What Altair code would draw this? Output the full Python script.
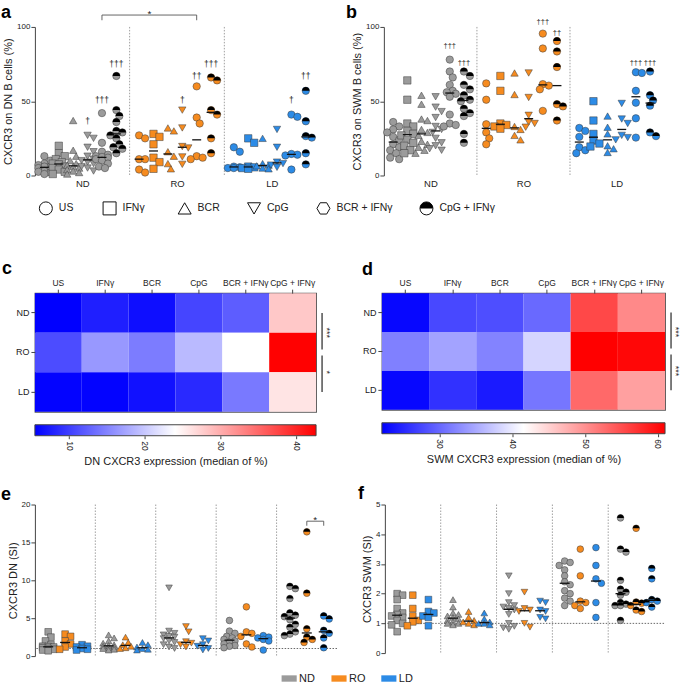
import altair as alt
import pandas as pd

FONT = "Liberation Sans"

groups = ["ND", "RO", "LD"]
treatments = ["US", "IFNγ", "BCR", "CpG", "BCR + IFNγ", "CpG + IFNγ"]
group_colors = ["#9b9b9b", "#f68b1f", "#2c8be6"]

# ---------------- panel a : CXCR3 on DN B cells (%) ----------------
a_ND = [
    [13, 10, 8, 7, 6, 6, 5, 4, 3, 2.5, 2, 1],
    [20, 15, 13, 11, 9, 8, 7.5, 6, 5, 4, 2.5, 1],
    [37, 17, 13, 10, 8, 7, 6, 5, 4, 3, 2, 1],
    [27, 25, 19, 16, 13, 11, 10, 9, 8, 6, 5, 3],
    [42, 22, 16, 14, 13, 12.5, 12, 11, 10, 8, 6, 5],
    [67, 44, 40, 36, 30, 29, 27, 25, 21, 19, 18, 15],
]
a_RO = [
    [27, 25, 11, 11, 4, 2],
    [28, 26, 21, 12, 9, 4.5],
    [32, 30, 16, 13, 8, 4.5],
    [44, 32, 19.5, 18.5, 12.5, 7.5],
    [60, 39, 35, 13, 12, 11],
    [66, 64, 44, 41, 25, 15],
]
a_LD = [
    [19, 16, 6, 5.5, 5, 5],
    [25, 22, 6, 5.5, 5, 4.5],
    [25, 8, 7, 6.5, 5, 4.5],
    [31, 19, 9, 8, 7, 5.5],
    [41, 39.5, 14.5, 14, 13.5, 4],
    [57, 36.5, 26.5, 25.5, 15, 7.5],
]
a_dag_group = ["ND", "ND", "ND", "RO", "RO", "RO", "LD", "LD"]
a_dag_treat = ["CpG", "BCR + IFNγ", "CpG + IFNγ", "CpG", "BCR + IFNγ", "CpG + IFNγ", "BCR + IFNγ", "CpG + IFNγ"]
a_dag_y = [37, 51, 75, 51, 67, 75, 51, 67]
a_dag_text = ["†", "†††", "†††", "†", "††", "†††", "†", "††"]
a_bracket = [("ND", "BCR + IFNγ"), ("RO", "BCR + IFNγ")]
a_bracket_y = [104.5, 108]

# ---------------- panel b : CXCR3 on SWM B cells (%) ----------------
b_ND = [
    [36, 33, 31, 29, 26, 24, 21, 19, 17, 15, 12, 11],
    [64, 51, 35, 33, 30, 28, 27, 24, 22, 20, 17, 15],
    [54, 48, 38, 37, 31, 29, 27, 23, 21, 19, 17, 15],
    [53, 46, 43, 39, 33, 31, 29, 25, 22, 20, 18, 17],
    [78, 70, 66, 61, 57, 56, 55, 53, 41, 35, 34, 33],
    [70, 67, 61, 58, 54, 51, 50, 45, 42, 40, 28, 22],
]
b_RO = [
    [62, 51, 34.5, 29, 25, 21],
    [67, 57, 35, 34, 33, 31.5],
    [69, 54.5, 33, 31, 27, 24],
    [69, 52.5, 40.5, 36, 35, 32.5],
    [95.5, 85.5, 61.5, 60.5, 58, 43.5],
    [90.5, 83.5, 73, 48, 46.5, 37],
]
b_LD = [
    [32, 30, 26, 19, 17, 15],
    [50, 37, 28, 23.5, 21.5, 19.5],
    [40, 32.5, 28, 20, 18, 15.5],
    [48.5, 38, 35, 27, 25.5, 24],
    [69.5, 69, 57, 49, 38.5, 25.5],
    [70, 54, 50.5, 47, 29, 26.5],
]
b_dag_group = ["ND", "ND", "RO", "RO", "LD", "LD"]
b_dag_treat = ["BCR + IFNγ", "CpG + IFNγ"] * 3
b_dag_y = [87, 76, 103.5, 96, 76, 76]
b_dag_text = ["†††", "†††", "†††", "††", "†††", "†††"]

# ---------------- heatmaps c, d (medians of a, b) ----------------
c_scale = [5.5, 24, 42.6]
c_ticks = [10, 20, 30, 40]
c_sig = ["***", "*"]
d_scale = [22, 41.5, 61]
d_ticks = [30, 40, 50, 60]
d_sig = ["***", "***"]

# ---------------- panel e : CXCR3 DN (SI) ----------------
e_ND = [
    [3.2, 2.5, 2.0, 1.5, 1.3, 1.25, 1.2, 1.1, 1.0, 0.9, 0.8, 0.7],
    [2.8, 2.4, 2.0, 1.7, 1.5, 1.4, 1.3, 1.2, 1.1, 1.0, 0.9, 0.8],
    [9.0, 3.3, 3.0, 2.8, 2.6, 2.5, 2.3, 2.0, 1.8, 1.5, 1.2, 1.0],
    [4.7, 3.3, 3.0, 2.6, 2.4, 2.2, 2.0, 1.8, 1.6, 1.4, 1.3, 1.1],
    [9.2, 8.9, 7.6, 5.7, 5.4, 5.2, 4.8, 4.2, 3.8, 3.2, 2.9, 2.7],
]
e_RO = [
    [2.9, 2.6, 2.0, 1.6, 1.2, 0.9],
    [2.5, 1.8, 1.5, 1.3, 1.1, 1.0],
    [3.9, 3.2, 1.9, 1.7, 1.5, 1.2],
    [6.5, 3.2, 3.0, 2.6, 1.6, 1.2],
    [16.4, 8.3, 3.6, 2.5, 2.2, 1.8],
]
e_LD = [
    [1.5, 1.3, 1.2, 1.0, 0.9, 0.8],
    [1.8, 1.5, 1.2, 1.0, 0.9, 0.8],
    [2.3, 2.0, 1.5, 1.3, 1.0, 0.8],
    [2.7, 2.5, 2.4, 2.2, 2.0, 0.8],
    [5.3, 4.9, 3.4, 3.0, 2.4, 1.1],
]
e_bracket = [("RO", "CpG + IFNγ"), ("LD", "CpG + IFNγ")]
e_bracket_y = [17.2, 17.8]

# ---------------- panel f : CXCR3 SWM (SI) ----------------
f_ND = [
    [2.0, 1.95, 1.8, 1.5, 1.35, 1.3, 1.25, 1.2, 1.1, 1.0, 0.95, 0.72],
    [1.8, 1.55, 1.35, 1.3, 1.25, 1.2, 1.15, 1.1, 1.05, 1.0, 1.0, 0.95],
    [2.6, 2.0, 1.7, 1.6, 1.55, 1.5, 1.45, 1.3, 1.0, 0.9, 0.85, 0.8],
    [3.1, 3.05, 2.95, 2.8, 2.6, 2.4, 2.3, 2.1, 2.0, 1.85, 1.75, 1.6],
    [4.55, 3.5, 3.4, 2.45, 2.15, 2.05, 1.95, 1.7, 1.65, 1.6, 1.6, 1.1],
]
f_RO = [
    [1.95, 1.5, 1.25, 1.1, 1.05, 0.92],
    [1.4, 1.2, 1.1, 1.05, 1.0, 0.95],
    [2.05, 1.5, 1.45, 1.4, 1.0, 0.87],
    [3.5, 2.6, 1.75, 1.7, 1.6, 1.5],
    [4.2, 1.72, 1.68, 1.6, 1.45, 1.4],
]
f_LD = [
    [1.8, 1.4, 1.35, 1.25, 1.2, 0.92],
    [1.35, 1.15, 1.05, 1.0, 1.0, 0.95],
    [1.75, 1.7, 1.45, 1.4, 1.2, 1.15],
    [3.55, 2.95, 2.5, 2.35, 1.7, 1.2],
    [2.85, 2.5, 1.8, 1.75, 1.7, 1.55],
]

# ---------------- styling helpers ----------------
HALF = "M-1,0A1,1 0 0 1 1,0Z"
HEX = "M-1,0L-0.5,-0.87L0.5,-0.87L1,0L0.5,0.87L-0.5,0.87Z"
BAR = "M-1,-0.42L1,-0.42L1,0.42L-1,0.42Z"
point_shapes = ["circle", "square", "triangle-up", "triangle-down", "circle", "circle"]
legend_shapes = ["circle", "square", "triangle-up", "triangle-down", HEX, "circle"]
col_ab = [0.10, 0.252, 0.404, 0.556, 0.708, 0.86]
col_ef = [0.22, 0.5, 0.78]
RES = dict(shape="independent", color="independent", fill="independent")
ORIGIN = 35  # x of the first column's plot areas


def swarm(values, ppu, diam):
    step = diam * 0.5
    placed, out = [], [0.0] * len(values)
    for i in sorted(range(len(values)), key=lambda k: -values[k]):
        y = values[i] * ppu
        best, best_cost = 0.0, None
        for c in (0.0, step, -step, 2 * step, -2 * step):
            cost = 0.0
            for py, px in placed:
                d = ((c - px) ** 2 + (y - py) ** 2) ** 0.5
                cost += max(0.0, diam - d)
            if best_cost is None or cost < best_cost - 1e-6:
                best, best_cost = c, cost
            if cost == 0:
                break
        placed.append((y, best))
        out[i] = best
    return out


def strip_df(by_group, x_ppu, y_ppu, diam, treat_major):
    rows = []
    for gi, g in enumerate(groups):
        for k, vals in enumerate(by_group[gi]):
            if treat_major:
                t = treatments[k]
                xc = gi + col_ab[k]
            else:
                t = treatments[k + 1]
                xc = k + col_ef[gi]
            for v, dx in zip(vals, swarm(vals, y_ppu, diam)):
                rows.append({"group": g, "treat": t, "value": v, "xc": xc,
                             "x": xc + dx / x_ppu, "half": t == treatments[-1]})
    return pd.DataFrame(rows)


def xpos(g, t, treat_major):
    gi, ti = groups.index(g), treatments.index(t)
    return gi + col_ab[ti] if treat_major else (ti - 1) + col_ef[gi]


def letter_layer(letter, dx, dy):
    return alt.Chart(pd.DataFrame({"t": [letter]})).mark_text(
        font=FONT, fontSize=18, fontWeight="bold", align="left", baseline="alphabetic", color="#000"
    ).encode(text="t:N", x=alt.value(dx), y=alt.value(dy))


def strip_panel(df, W, H, ymax, yticks, ytitle, ncol, size, letter, ldx, ldy, treat_major,
                xlabels=None, hline=None, dag=None, dag_size=8.5, bracket=None, bracket_y=None, tick_len=10):
    xs = alt.Scale(domain=[0, ncol], nice=False, zero=False)
    ys = alt.Scale(domain=[0, ymax], nice=False)
    if xlabels:
        expr = "[" + ",".join("'%s'" % l for l in xlabels) + "][floor(datum.value)]"
        xaxis = alt.Axis(values=[i + 0.5 for i in range(ncol)], labelExpr=expr, title=None, domain=False,
                         ticks=False, tickSize=0, grid=False, labelFontSize=9.5, labelPadding=3)
    else:
        xaxis = None
    yaxis = alt.Axis(values=yticks, title=ytitle, grid=False, tickSize=4, labelPadding=1, titlePadding=3,
                     labelFontSize=8, titleFontSize=11, titleFontWeight="normal")

    def X(f):
        return alt.X(f, scale=xs, axis=xaxis)

    def Y(f):
        return alt.Y(f, scale=ys, axis=yaxis)

    layers = [alt.Chart(pd.DataFrame({"s": list(range(1, ncol))})).mark_rule(
        color="#888", strokeWidth=0.8, strokeDash=[1.5, 1.5]).encode(x=X("s:Q"))]
    if hline is not None:
        layers.append(alt.Chart(pd.DataFrame({"h": [hline]})).mark_rule(
            color="#444", strokeWidth=0.8, strokeDash=[1.5, 1.5]).encode(y=Y("h:Q")))
    base = alt.Chart(df)
    layers.append(base.mark_point(filled=True, size=size, opacity=1, stroke="#3a3a3a", strokeWidth=0.5).encode(
        x=X("x:Q"), y=Y("value:Q"),
        fill=alt.Fill("group:N", scale=alt.Scale(domain=groups, range=group_colors), legend=None),
        shape=alt.Shape("treat:N", scale=alt.Scale(domain=treatments, range=point_shapes), legend=None),
    ))
    layers.append(base.transform_filter("datum.half").mark_point(
        filled=True, shape=HALF, size=size, opacity=1, color="#000", strokeWidth=0).encode(
        x=X("x:Q"), y=Y("value:Q")))
    layers.append(base.mark_tick(orient="horizontal", size=tick_len, thickness=1.3, color="#111").encode(
        x=X("xc:Q"), y=Y("median(value):Q")))
    if dag is not None:
        gs, ts, yv, tx = dag
        ddf = pd.DataFrame({"x": [xpos(g, t, treat_major) for g, t in zip(gs, ts)], "y": yv, "t": tx})
        layers.append(alt.Chart(ddf).mark_text(font=FONT, fontSize=dag_size, baseline="middle", color="#222",
                                               fill="#222").encode(x=X("x:Q"), y=Y("y:Q"), text="t:N"))
    if bracket is not None:
        x0 = xpos(bracket[0][0], bracket[0][1], treat_major)
        x1 = xpos(bracket[1][0], bracket[1][1], treat_major)
        lo, hi = bracket_y
        bdf = pd.DataFrame({"x": [x0, x0, x1, x1], "y": [lo, hi, hi, lo], "o": [0, 1, 2, 3]})
        layers.append(alt.Chart(bdf).mark_line(color="#555", strokeWidth=0.9).encode(
            x=X("x:Q"), y=Y("y:Q"), order="o:Q"))
        sdf = pd.DataFrame({"x": [(x0 + x1) / 2], "y": [hi], "t": ["*"]})
        layers.append(alt.Chart(sdf).mark_text(font=FONT, fontSize=10, baseline="alphabetic", dy=2,
                                               color="#222").encode(x=X("x:Q"), y=Y("y:Q"), text="t:N"))
    layers.append(letter_layer(letter, ldx, ldy))
    return alt.layer(*layers).properties(width=W, height=H)


def heat_panel(df, dom, ticks, W, H, letter, ldx, ldy, sig, cbtitle):
    cs = alt.Scale(domain=dom, range=["#0000ff", "#ffffff", "#ff0000"], interpolate="rgb")
    xs = alt.Scale(domain=treatments, paddingInner=0, paddingOuter=0)
    ys = alt.Scale(domain=groups, paddingInner=0, paddingOuter=0)
    yaxis = alt.Axis(title=None, domain=False, tickSize=4, labelPadding=2, labelFontSize=9)
    heat = alt.Chart(df).mark_rect().encode(
        x=alt.X("treat:N", scale=xs, axis=alt.Axis(orient="top", labelAngle=0, title=None, domain=False,
                                                     tickSize=4, labelPadding=2, labelFontSize=8.5)),
        y=alt.Y("group:N", scale=ys, axis=yaxis),
        color=alt.Color("median(value):Q", scale=cs, legend=None),
    )
    sdf = pd.DataFrame({"a": groups[:-1], "b": groups[1:], "t": sig})
    r1 = alt.Chart(sdf.iloc[:1]).mark_rule(color="#111", strokeWidth=1.1, y2Offset=-3).encode(
        x=alt.value(W + 6), y=alt.Y("a:N", scale=ys, axis=yaxis), y2="b:N")
    r2 = alt.Chart(sdf.iloc[1:]).mark_rule(color="#111", strokeWidth=1.1, yOffset=3).encode(
        x=alt.value(W + 6), y=alt.Y("a:N", scale=ys, axis=yaxis), y2="b:N")
    st = alt.Chart(sdf).mark_text(font=FONT, fontSize=9, angle=90, align="center", baseline="middle",
                                  color="#111").encode(
        x=alt.value(W + 11), y=alt.Y("b:N", scale=ys, axis=yaxis, bandPosition=0), text="t:N")
    hm = alt.layer(heat, r1, r2, st, letter_layer(letter, ldx, ldy)).properties(
        width=W, height=H, view=alt.ViewBackground(stroke="#555", strokeWidth=1.2))
    lo, mid, hi = dom
    grad = alt.LinearGradient(gradient="linear", x1=0, x2=1, y1=0, y2=0, stops=[
        alt.GradientStop(offset=0, color="#0000ff"),
        alt.GradientStop(offset=(mid - lo) / (hi - lo), color="#ffffff"),
        alt.GradientStop(offset=1, color="#ff0000")])
    cb = alt.Chart(pd.DataFrame({"lo": [lo], "hi": [hi]})).mark_rect(
        color=grad, stroke="#444", strokeWidth=1).encode(
        x=alt.X("lo:Q", scale=alt.Scale(domain=[lo, hi], nice=False, zero=False),
                axis=alt.Axis(values=ticks, labelAngle=90, title=cbtitle, tickSize=3, labelPadding=2,
                              labelFontSize=8.5, titleFontSize=11, titleFontWeight="normal", titlePadding=5,
                              domain=False, grid=False)),
        x2="hi:Q").properties(width=W, height=11)
    return alt.vconcat(hm, cb, spacing=11).resolve_scale(**RES)


# ---------------- build panels ----------------
WA, WB, WC, WD, WE, WF = 285, 280, 282, 284, 303, 280
df_a = strip_df([a_ND, a_RO, a_LD], WA / 3, 149 / 100, 6, True)
df_b = strip_df([b_ND, b_RO, b_LD], WB / 3, 149 / 100, 6, True)
df_e = strip_df([e_ND, e_RO, e_LD], WE / 5, 152 / 20, 5.5, False)
df_f = strip_df([f_ND, f_RO, f_LD], WF / 5, 149 / 5, 5.5, False)

pa = strip_panel(df_a, WA, 149, 100, [0, 50, 100], "CXCR3 on DN B cells (%)", 3, 55, "a", -34, -9, True,
                 xlabels=groups, dag=(a_dag_group, a_dag_treat, a_dag_y, a_dag_text),
                 bracket=a_bracket, bracket_y=a_bracket_y, tick_len=9)
pb = strip_panel(df_b, WB, 149, 100, [0, 50, 100], "CXCR3 on SWM B cells (%)", 3, 55, "b", -38, -9, True,
                 xlabels=groups, dag=(b_dag_group, b_dag_treat, b_dag_y, b_dag_text), dag_size=7.5,
                 tick_len=9)
pe = strip_panel(df_e, WE, 152, 20, [0, 5, 10, 15, 20], "CXCR3 DN (SI)", 5, 45, "e", -34, -5, False,
                 hline=1, bracket=e_bracket, bracket_y=e_bracket_y, tick_len=10)
pf = strip_panel(df_f, WF, 149, 5, [0, 1, 2, 3, 4, 5], "CXCR3 SWM (SI)", 5, 45, "f", -27, -6, False,
                 hline=1, tick_len=10)

pc = heat_panel(df_a, c_scale, c_ticks, WC, 119, "c", -33, -19, c_sig, "DN CXCR3 expression (median of %)")
pd_ = heat_panel(df_b, d_scale, d_ticks, WD, 117, "d", -20, -18, d_sig, "SWM CXCR3 expression (median of %)")

# ---------------- legends ----------------
def text_w(s):
    return sum(2.6 if ch == " " else 5.7 for ch in s)

sx = [46.0 - ORIGIN]
for lab in treatments[:-1]:
    sx.append(sx[-1] + 14.5 + text_w(lab) + 38)
LW = 500
leg_df = pd.DataFrame({"treat": treatments, "px": sx, "tx": [p + 13 for p in sx],
                       "half": [t == treatments[-1] for t in treatments]})
lx = alt.Scale(domain=[0, LW], nice=False, zero=True)
leg_sym = alt.Chart(leg_df).mark_point(filled=True, fill="white", stroke="#111", strokeWidth=1, size=170,
                                       opacity=1).encode(
    x=alt.X("px:Q", scale=lx, axis=None), y=alt.value(9),
    shape=alt.Shape("treat:N", scale=alt.Scale(domain=treatments, range=legend_shapes), legend=None))
leg_half = alt.Chart(leg_df).transform_filter("datum.half").mark_point(
    filled=True, shape=HALF, size=170, color="#000", opacity=1).encode(
    x=alt.X("px:Q", scale=lx, axis=None), y=alt.value(9))
leg_txt = alt.Chart(leg_df).mark_text(font=FONT, fontSize=10.5, align="left", baseline="middle",
                                      color="#222").encode(
    x=alt.X("tx:Q", scale=lx, axis=None), y=alt.value(9), text="treat:N")
shape_leg = alt.layer(leg_sym, leg_half, leg_txt).properties(width=LW, height=18)

CW = 420
cl_df = pd.DataFrame({"group": groups, "px": [290 - ORIGIN + 50 * i for i in range(3)]})
cl_df["tx"] = cl_df["px"] + 10
cx = alt.Scale(domain=[0, CW], nice=False, zero=True)
cl_sym = alt.Chart(cl_df).mark_point(filled=True, shape=BAR, size=230, opacity=1).encode(
    x=alt.X("px:Q", scale=cx, axis=None), y=alt.value(6),
    fill=alt.Fill("group:N", scale=alt.Scale(domain=groups, range=group_colors), legend=None))
cl_txt = alt.Chart(cl_df).mark_text(font=FONT, fontSize=11, align="left", baseline="middle",
                                    color="#222").encode(
    x=alt.X("tx:Q", scale=cx, axis=None), y=alt.value(6), text="group:N")
color_leg = alt.layer(cl_sym, cl_txt).properties(width=CW, height=12)

row1 = alt.hconcat(pa, pb, spacing=27).resolve_scale(**RES)
row2 = alt.hconcat(pc, pd_, spacing=29).resolve_scale(**RES)
row3 = alt.hconcat(pe, pf, spacing=20).resolve_scale(**RES)
top = alt.vconcat(row1, shape_leg, spacing=11).resolve_scale(**RES)
mid = alt.vconcat(row2, row3, spacing=18).resolve_scale(**RES)
bottom = alt.vconcat(mid, color_leg, spacing=12.5).resolve_scale(**RES)

chart = alt.vconcat(top, bottom, spacing=42).resolve_scale(**RES).properties(
    padding={"left": 1, "top": 3, "right": 0, "bottom": 0}
).configure_view(strokeWidth=0).configure_axis(
    labelFont=FONT, titleFont=FONT, labelColor="#222", titleColor="#222",
    domainColor="#444", tickColor="#444", domainWidth=1, tickWidth=1
)

chart.save("out.html", embed_options={"renderer": "svg", "actions": False})
